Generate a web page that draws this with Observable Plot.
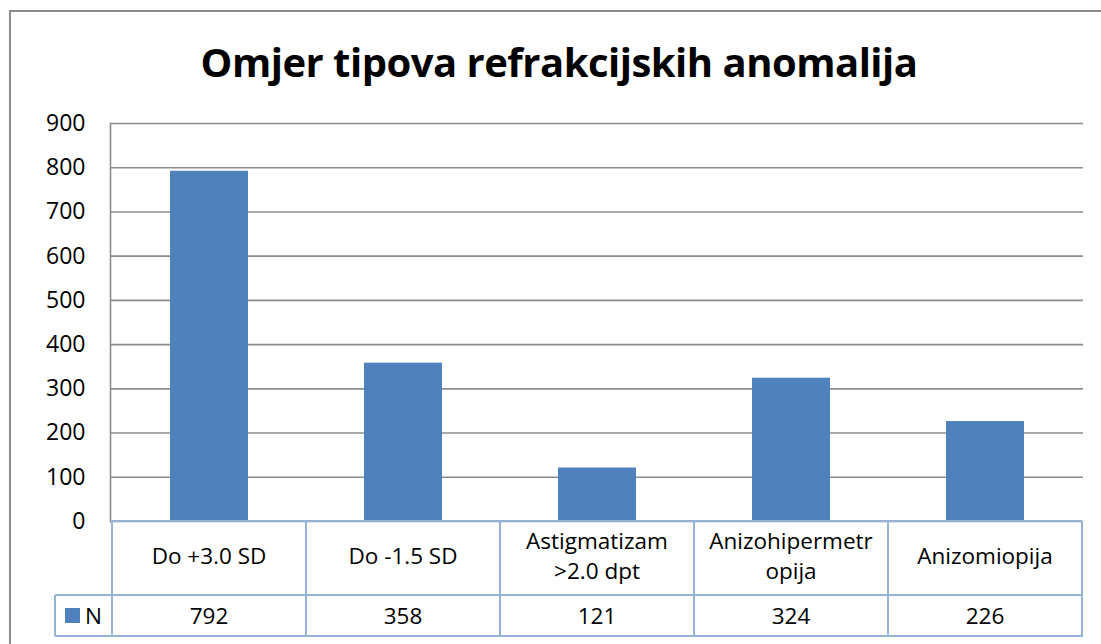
<!DOCTYPE html>
<html><head><meta charset="utf-8">
<script src="https://cdn.jsdelivr.net/npm/d3@7"></script>
<script src="https://cdn.jsdelivr.net/npm/@observablehq/plot@0.6"></script>
<style>
body{margin:0;background:#fff;overflow:hidden;}
#wrap{position:relative;width:1101px;height:644px;overflow:hidden;font-family:"Open Sans",sans-serif;color:#000;}
#frame{position:absolute;left:9px;top:10px;width:1200px;height:700px;border-left:2px solid #8c8c8c;border-top:2px solid #8c8c8c;}
#title{position:absolute;left:0;width:1118px;top:40px;text-align:center;font-weight:bold;font-size:40px;line-height:44px;letter-spacing:-0.5px;white-space:nowrap;}
#chart{position:absolute;left:0;top:0;}
.cell{position:absolute;box-sizing:border-box;display:flex;align-items:center;justify-content:center;text-align:center;font-size:22.5px;line-height:30px;white-space:pre;}
.line{position:absolute;background:#95B3D7;}
</style>
</head><body>
<div id="wrap">
  <div id="frame"></div>
  <div id="title">Omjer tipova refrakcijskih anomalija</div>
  <div id="chart"></div>
</div>
<script>
const categories = ["Do +3.0 SD", "Do -1.5 SD", "Astigmatizam >2.0 dpt", "Anizohipermetropija", "Anizomiopija"];
const tableLabels = ["Do +3.0 SD", "Do -1.5 SD", "Astigmatizam\n>2.0 dpt", "Anizohipermetr\nopija", "Anizomiopija"];
const values = [792, 358, 121, 324, 226];
const seriesName = "N";
const yTicks = [0, 100, 200, 300, 400, 500, 600, 700, 800, 900];
const barColor = "#4F81BD";

const data = categories.map((c, i) => ({category: c, value: values[i]}));

const chart = Plot.plot({
  width: 1101,
  height: 644,
  marginTop: 123,
  marginBottom: 123,
  marginLeft: 110,
  marginRight: 18,
  style: {fontFamily: "'Open Sans', sans-serif", fontSize: "23px", background: "transparent", color: "#000"},
  x: {domain: categories, paddingInner: 0.6, paddingOuter: 0.3, axis: null},
  y: {domain: [0, 900], axis: null},
  marks: [
    Plot.gridY(yTicks, {stroke: "#8c8c8c", strokeOpacity: 1, strokeWidth: 1.6}),
    Plot.frame({anchor: "left", stroke: "#8c8c8c", strokeWidth: 1.6}),
    Plot.barY(data, {x: "category", y: "value", fill: barColor}),
    Plot.axisY(yTicks, {tickSize: 0, tickPadding: 25, fontSize: 23, fill: "#000", label: null})
  ]
});
document.getElementById("chart").appendChild(chart);

// data table below the plot, aligned to the band scale
const xs = chart.scale("x");
const ys = chart.scale("y");
const step = xs.step, bw = xs.bandwidth;
const colStart = c => xs.apply(c) - (step - bw) / 2;
const tableTop = ys.apply(0);
const row1 = 74, row2 = 41;
const tableLeft = colStart(categories[0]);
const tableRight = colStart(categories[categories.length - 1]) + step;
const legendLeft = 55;
const wrap = document.getElementById("wrap");
function el(cls, css, text) {
  const d = document.createElement("div");
  d.className = cls;
  Object.assign(d.style, css);
  if (text != null) d.textContent = text;
  wrap.appendChild(d);
  return d;
}
const lw = 2;
categories.forEach((c, i) => {
  const x0 = colStart(c);
  el("cell", {left: x0 + "px", top: (tableTop - 2) + "px", width: step + "px", height: row1 + "px"}, tableLabels[i]);
  el("cell", {left: x0 + "px", top: (tableTop + row1) + "px", width: step + "px", height: row2 + "px"}, String(values[i]));
});
// legend cell
const lg = el("cell", {left: legendLeft + "px", top: (tableTop + row1) + "px", width: (tableLeft - legendLeft) + "px", height: row2 + "px", justifyContent: "flex-start", paddingLeft: "10px"});
const sw = document.createElement("span");
Object.assign(sw.style, {display: "inline-block", width: "15px", height: "15px", background: barColor, marginRight: "5px"});
lg.appendChild(sw);
lg.appendChild(document.createTextNode(seriesName));
// grid lines
el("line", {left: tableLeft + "px", top: (tableTop - lw/2) + "px", width: (tableRight - tableLeft) + "px", height: lw + "px"});
el("line", {left: legendLeft + "px", top: (tableTop + row1 - lw/2) + "px", width: (tableRight - legendLeft) + "px", height: lw + "px"});
el("line", {left: legendLeft + "px", top: (tableTop + row1 + row2 - lw/2) + "px", width: (tableRight - legendLeft + lw/2) + "px", height: lw + "px"});
el("line", {left: (legendLeft - lw/2) + "px", top: (tableTop + row1) + "px", width: lw + "px", height: row2 + "px"});
categories.forEach(c => {
  el("line", {left: (colStart(c) - lw/2) + "px", top: tableTop + "px", width: lw + "px", height: (row1 + row2) + "px"});
});
el("line", {left: (tableRight - lw/2) + "px", top: tableTop + "px", width: lw + "px", height: (row1 + row2) + "px"});
</script>
</body></html>
